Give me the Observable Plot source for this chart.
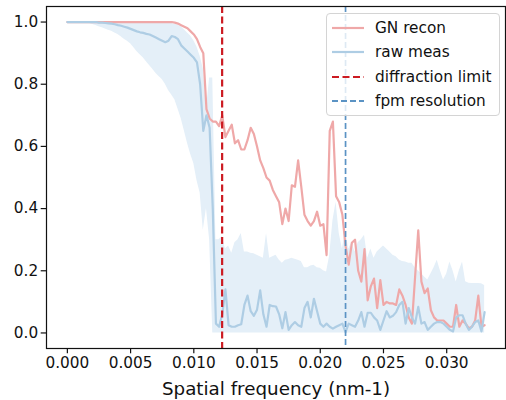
<!DOCTYPE html>
<html>
<head>
<meta charset="utf-8">
<script src="https://cdn.jsdelivr.net/npm/d3@7"></script>
<script src="https://cdn.jsdelivr.net/npm/@observablehq/plot@0.6"></script>
<style>
  html, body { margin: 0; padding: 0; background: #fff; }
  #wrap { position: relative; width: 506px; height: 400px; font-family: "DejaVu Sans", sans-serif; }
  #wrap svg { display: block; }
  #legend { position: absolute; left: 326px; top: 13px; width: 174px; height: 103px; box-sizing: border-box;
    border: 1px solid #d4d4d4; border-radius: 4px; background: rgba(255,255,255,0.8); }
  .row { position: absolute; left: 0; height: 20px; width: 100%; }
  .row svg { position: absolute; left: 5px; top: 8px; }
  .row span { position: absolute; left: 48px; top: 0; font-size: 15.3px; line-height: 20px; color: #111; white-space: nowrap; }
</style>
</head>
<body>
<div id="wrap"></div>
<script>
// Spatial frequency grid (nm^-1)
const freq = [
  0,0.00025,0.0005,0.00075,0.001,0.00125,0.0015,0.00175,0.002,0.00225,
  0.0025,0.00275,0.003,0.00325,0.0035,0.00375,0.004,0.00425,0.0045,0.00475,
  0.005,0.00525,0.0055,0.00575,0.006,0.00625,0.0065,0.00675,0.007,0.00725,
  0.0075,0.00775,0.008,0.00825,0.0085,0.00875,0.009,0.00925,0.0095,0.00975,
  0.01,0.01025,0.0105,0.01075,0.011,0.01125,0.0115,0.01175,0.012,0.01225,
  0.0125,0.01275,0.013,0.01325,0.0135,0.01375,0.014,0.01425,0.0145,0.01475,
  0.015,0.01525,0.0155,0.01575,0.016,0.01625,0.0165,0.01675,0.017,0.01725,
  0.0175,0.01775,0.018,0.01825,0.0185,0.01875,0.019,0.01925,0.0195,0.01975,
  0.02,0.02025,0.0205,0.02075,0.021,0.02125,0.0215,0.02175,0.022,0.02225,
  0.0225,0.02275,0.023,0.02325,0.0235,0.02375,0.024,0.02425,0.0245,0.02475,
  0.025,0.02525,0.0255,0.02575,0.026,0.02625,0.0265,0.02675,0.027,0.02725,
  0.0275,0.02775,0.028,0.02825,0.0285,0.02875,0.029,0.02925,0.0295,0.02975,
  0.03,0.03025,0.0305,0.03075,0.031,0.03125,0.0315,0.03175,0.032,0.03225,
  0.0325,0.03275,0.033
];
// GN recon
const gnRecon = [
  1,1,1,1,1,1,1,1,1,1,
  1,1,1,1,1,1,1,1,1,1,
  1,1,1,1,1,1,1,1,1,1,
  1,1,1,1,0.998,0.995,0.99,0.985,0.98,0.97,
  0.96,0.945,0.92,0.9,0.72,0.69,0.68,0.68,0.665,0.7,
  0.63,0.65,0.67,0.61,0.62,0.59,0.59,0.62,0.66,0.64,
  0.6,0.555,0.53,0.5,0.49,0.46,0.44,0.42,0.35,0.4,
  0.36,0.475,0.47,0.555,0.47,0.38,0.36,0.345,0.36,0.39,
  0.345,0.35,0.25,0.65,0.68,0.44,0.42,0.38,0.28,0.22,
  0.29,0.3,0.2,0.165,0.27,0.105,0.15,0.175,0.08,0.17,
  0.09,0.1,0.095,0.095,0.09,0.14,0.12,0.09,0.05,0.03,
  0.18,0.33,0.165,0.128,0.143,0.073,0.05,0.04,0.04,0.04,
  0.03,0.02,0.02,0.09,0.02,0.04,0.03,0.015,0.02,0.04,
  0.12,0.02,0.025
];
// raw meas (mean)
const rawMeas = [
  1,1,1,1,1,1,1,1,1,1,
  0.998,0.998,0.997,0.996,0.995,0.993,0.99,0.988,0.985,0.982,
  0.978,0.974,0.97,0.967,0.965,0.962,0.96,0.955,0.95,0.945,
  0.94,0.935,0.94,0.955,0.952,0.945,0.925,0.915,0.905,0.895,
  0.885,0.87,0.8,0.65,0.7,0.66,0.4,0.03,0.02,0.06,
  0.14,0.025,0.02,0.02,0.025,0.028,0.09,0.12,0.07,0.055,
  0.075,0.137,0.06,0.02,0.09,0.086,0.085,0.06,0.015,0.067,
  0.01,0.025,0.035,0.025,0.02,0.08,0.1,0.05,0.11,0.07,
  0.03,0.02,0.03,0.02,0.014,0.02,0.025,0.03,0.003,0.03,
  0.025,0.02,0.04,0.067,0.02,0.065,0.065,0.05,0.04,0.01,
  0.04,0.07,0.05,0.055,0.067,0.09,0.1,0.03,0.08,0.05,
  0.03,0.084,0.03,0.035,0.01,0.02,0.03,0.035,0.035,0.03,
  0.02,0.01,0.005,0.05,0.057,0.057,0.03,0.01,0.02,0.035,
  0.04,0.005,0.067
];
// raw meas band: upper and lower
const rawUpper = [
  1,1,1,1,1,1,1,1,1,1,
  1,1,1,1,1,1,1,1,1,1,
  1,1,1,1,1,1,1,1,1,1,
  1,0.998,0.997,0.995,0.993,0.99,0.985,0.975,0.965,0.955,
  0.94,0.92,0.89,0.85,0.72,0.82,0.82,0.3,0.3,0.31,
  0.27,0.28,0.256,0.29,0.3,0.32,0.26,0.26,0.256,0.255,
  0.25,0.245,0.24,0.32,0.24,0.245,0.25,0.235,0.224,0.234,
  0.236,0.24,0.237,0.234,0.23,0.21,0.21,0.215,0.218,0.21,
  0.208,0.2,0.196,0.25,0.36,0.42,0.32,0.27,0.33,0.27,
  0.29,0.26,0.29,0.3,0.314,0.24,0.27,0.24,0.26,0.27,
  0.28,0.27,0.26,0.25,0.245,0.235,0.23,0.228,0.224,0.224,
  0.21,0.2,0.19,0.18,0.17,0.19,0.21,0.234,0.2,0.17,
  0.19,0.228,0.2,0.164,0.2,0.228,0.165,0.16,0.159,0.159,
  0.159,0.158,0.153
];
const rawLower = [
  1,1,1,1,1,0.998,0.997,0.995,0.992,0.989,
  0.985,0.982,0.978,0.974,0.97,0.965,0.96,0.953,0.945,0.938,
  0.93,0.918,0.905,0.895,0.885,0.872,0.86,0.848,0.835,0.825,
  0.815,0.8,0.78,0.765,0.75,0.72,0.69,0.65,0.61,0.575,
  0.545,0.49,0.45,0.33,0.4,0.3,0,0,0,0,
  0,0,0,0,0,0,0,0,0,0,
  0,0,0,0,0,0,0,0,0,0,
  0,0,0,0,0,0,0,0,0,0,
  0,0,0,0,0,0,0,0,0,0,
  0,0,0,0,0,0,0,0,0,0,
  0,0,0,0,0,0,0,0,0,0,
  0,0,0,0,0,0,0,0,0,0,
  0,0,0,0,0,0,0,0,0,0,
  0,0,0
];
const diffractionLimit = [0.01224];
const fpmResolution = [0.0220];
const xTicks = [0, 0.005, 0.010, 0.015, 0.020, 0.025, 0.030];
const yTicks = [0, 0.2, 0.4, 0.6, 0.8, 1.0];
const xLabel = "Spatial frequency (nm-1)";
const legendLabels = ["GN recon", "raw meas", "diffraction limit", "fpm resolution"];

const C_GN = "#efa8a8";
const C_RAW = "#aecde4";
const C_BAND = "#e4eff8";
const C_DIFF = "#cc1b22";
const C_FPM = "#5b93c4";

const data = freq.map((f, i) => ({f, gn: gnRecon[i], raw: rawMeas[i], up: rawUpper[i], lo: rawLower[i]}));

const chart = Plot.plot({
  width: 506,
  height: 400,
  marginLeft: 46,
  marginRight: 1,
  marginTop: 6,
  marginBottom: 52,
  style: {fontFamily: "DejaVu Sans", fontSize: "15.3px", color: "#111", background: "#fff"},
  x: {domain: [-0.00165, 0.03465]},
  y: {domain: [-0.05, 1.05]},
  marks: [
    Plot.areaY(data, {x: "f", y1: "lo", y2: "up", fill: C_BAND}),
    Plot.lineY(data, {x: "f", y: "gn", stroke: C_GN, strokeWidth: 2.2}),
    Plot.lineY(data, {x: "f", y: "raw", stroke: C_RAW, strokeWidth: 2.2}),
    Plot.ruleX(diffractionLimit, {stroke: C_DIFF, strokeWidth: 2.2, strokeDasharray: "7,3.5"}),
    Plot.ruleX(fpmResolution, {stroke: C_FPM, strokeWidth: 1.7, strokeDasharray: "6,3"}),
    Plot.frame({stroke: "#111", strokeWidth: 1.2}),
    Plot.axisX(xTicks, {anchor: "bottom", tickFormat: d3.format(".3f"), tickSize: 5.3, tickPadding: 3, strokeWidth: 1.2, stroke: "#111", fill: "#111", fontSize: 15.3, label: null}),
    Plot.axisY(yTicks, {anchor: "left", tickFormat: d3.format(".1f"), tickSize: 5.3, tickPadding: 3, strokeWidth: 1.2, stroke: "#111", fill: "#111", fontSize: 15.3, label: null}),
    Plot.text([xLabel], {frameAnchor: "bottom", dy: 46, lineAnchor: "bottom", text: d => d, fontSize: 18.3, fill: "#111"})
  ]
});

const wrap = document.getElementById("wrap");
wrap.appendChild(chart);

// Legend overlay
const legend = document.createElement("div");
legend.id = "legend";
const styles = [
  {stroke: C_GN, dash: null, w: 2.2},
  {stroke: C_RAW, dash: null, w: 2.2},
  {stroke: C_DIFF, dash: "7,3.5", w: 2.2},
  {stroke: C_FPM, dash: "6,3", w: 2.0}
];
const rowCenters = [13.7, 38.4, 62.8, 87.2];
legendLabels.forEach((lab, i) => {
  const row = document.createElement("div");
  row.className = "row";
  row.style.top = (rowCenters[i] - 10) + "px";
  const s = styles[i];
  row.innerHTML = `<svg width="32" height="4"><line x1="0" y1="2" x2="32" y2="2" stroke="${s.stroke}" stroke-width="${s.w}" ${s.dash ? `stroke-dasharray="${s.dash}"` : ""}/></svg><span>${lab}</span>`;
  legend.appendChild(row);
});
wrap.appendChild(legend);
</script>
</body>
</html>
